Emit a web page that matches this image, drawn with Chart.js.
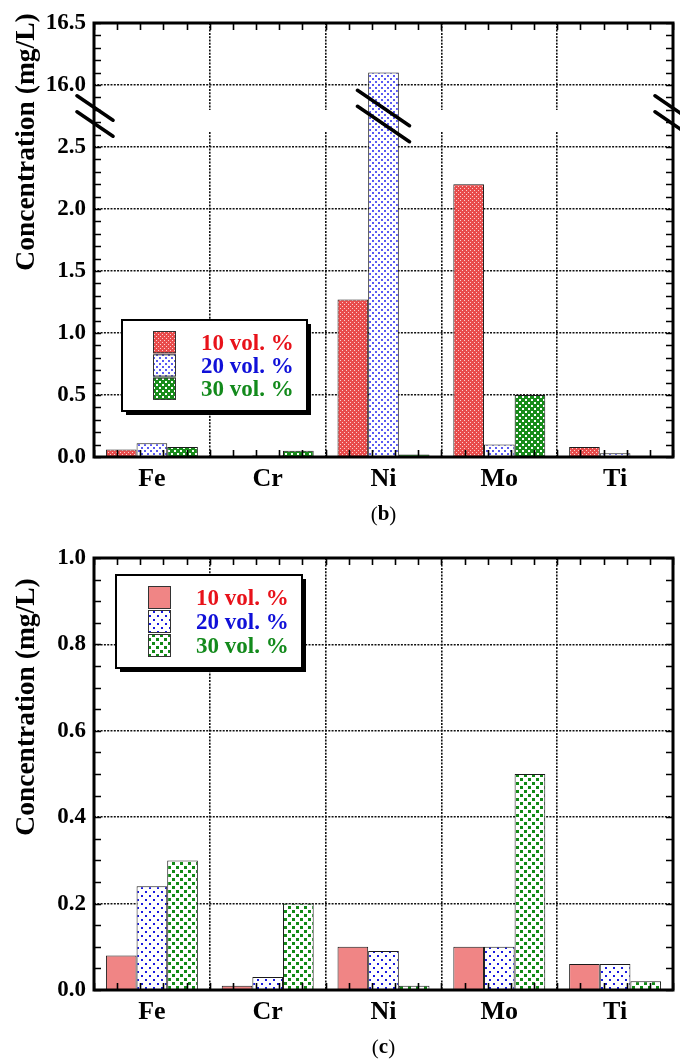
<!DOCTYPE html>
<html>
<head>
<meta charset="utf-8">
<script src="https://cdn.jsdelivr.net/npm/chart.js@4.4.1/dist/chart.umd.min.js"></script>
<style>
    body { margin: 0; background: #fff; }
    .panel { position: absolute; left: 0; width: 680px; }
    #panelB { top: 0; height: 530px; }
    #panelC { top: 530px; height: 529px; }
</style>
</head>
<body>
<div class="panel" id="panelB"><canvas id="chartB"></canvas></div>
<div class="panel" id="panelC"><canvas id="chartC"></canvas></div>
<script>
const elements = ['Fe', 'Cr', 'Ni', 'Mo', 'Ti'];
const seriesLabels = ['10 vol. %', '20 vol. %', '30 vol. %'];
const seriesTextColors = ['#e8121a', '#1010d8', '#138a1c'];

// panel (b), mg/L
const b10 = [0.06, 0.005, 1.27, 2.2, 0.08];
const b20 = [0.11, 0.015, 16.1, 0.1, 0.03];
const b30 = [0.08, 0.05, 0.02, 0.5, 0];
const bTicks = ['0.0', '0.5', '1.0', '1.5', '2.0', '2.5', '16.0', '16.5'];

// panel (c), mg/L
const c10 = [0.08, 0.01, 0.1, 0.1, 0.06];
const c20 = [0.24, 0.03, 0.09, 0.1, 0.06];
const c30 = [0.30, 0.20, 0.01, 0.5, 0.02];
const cTicks = ['0.0', '0.2', '0.4', '0.6', '0.8', '1.0'];

// broken y axis of panel (b): everything above 2.5 is shifted down so 16.0 sits one step above 2.5
const BREAK_LOW = 2.5;
const BREAK_HIGH = 16.0;
const BREAK_STEP = 0.5;
function toBroken(v) {
    return v > BREAK_LOW ? v - (BREAK_HIGH - BREAK_LOW - BREAK_STEP) : v;
}

const SERIF = "'Liberation Serif', 'Times New Roman', serif";

function makePattern(size, bg, dots) {
    const c = document.createElement('canvas');
    c.width = c.height = size;
    const g = c.getContext('2d');
    g.fillStyle = bg;
    g.fillRect(0, 0, size, size);
    dots.forEach(d => {
        g.fillStyle = d[3];
        g.fillRect(d[0], d[1], d[2], d[2]);
    });
    return g.createPattern(c, 'repeat');
}

const fillsB = [
    makePattern(4, '#e84c4c', [[0, 0, 1, '#fbd0d0'], [2, 2, 1, '#fbd0d0']]),
    makePattern(6, '#ffffff', [[0, 0, 2, '#5a5af2'], [3, 3, 2, '#5a5af2']]),
    makePattern(6, '#178c1a', [[0, 0, 2, '#ffffff'], [3, 3, 2, '#ffffff']])
];
const fillsC = [
    '#f08585',
    makePattern(8, '#ffffff', [[1, 1, 2, '#1a1ae0'], [5, 5, 2, '#1a1ae0']]),
    makePattern(8, '#ffffff', [[0, 0, 3, '#128a16'], [4, 4, 3, '#128a16']])
];

// frame, inward minor ticks, y title, panel letter, legend
function framePlugin(cfg) {
    return {
        id: 'frame_' + cfg.letter,
        afterDatasetsDraw(chart) {
            const ctx = chart.ctx;
            const a = chart.chartArea;
            const ys = chart.scales.y;
            ctx.save();
            ctx.strokeStyle = '#000';
            ctx.lineWidth = 1.6;
            ctx.beginPath();
            for (let v = 0; v <= ys.max + 1e-9; v += cfg.minorStep) {
                const y = Math.round(ys.getPixelForValue(v)) + 0.5;
                ctx.moveTo(a.left, y); ctx.lineTo(a.left + 7, y);
                ctx.moveTo(a.right, y); ctx.lineTo(a.right - 7, y);
            }
            const w = (a.right - a.left) / elements.length;
            for (let i = 0; i <= elements.length * 5; i++) {
                const x = Math.round(a.left + i * w / 5) + 0.5;
                ctx.moveTo(x, a.bottom); ctx.lineTo(x, a.bottom - 7);
                ctx.moveTo(x, a.top); ctx.lineTo(x, a.top + 7);
            }
            ctx.stroke();
            ctx.lineWidth = 3;
            ctx.strokeRect(a.left, a.top, a.right - a.left, a.bottom - a.top);
            ctx.restore();
        },
        afterDraw(chart) {
            const ctx = chart.ctx;
            const a = chart.chartArea;
            ctx.save();
            // y title
            ctx.translate(27, cfg.titleY);
            ctx.rotate(-Math.PI / 2);
            ctx.fillStyle = '#000';
            ctx.font = 'bold 27.5px ' + SERIF;
            ctx.textAlign = 'center';
            ctx.textBaseline = 'middle';
            ctx.fillText('Concentration (mg/L)', 0, 0);
            ctx.restore();

            // panel letter "(b)" / "(c)"
            ctx.save();
            ctx.fillStyle = '#000';
            ctx.textBaseline = 'middle';
            const cx = (a.left + a.right) / 2;
            ctx.font = '21px ' + SERIF;
            const wp = ctx.measureText('(').width;
            const wq = ctx.measureText(')').width;
            ctx.font = 'bold 21px ' + SERIF;
            const wl = ctx.measureText(cfg.letter).width;
            const x = cx - (wp + wl + wq) / 2;
            ctx.font = '21px ' + SERIF;
            ctx.fillText('(', x, cfg.letterY);
            ctx.font = 'bold 21px ' + SERIF;
            ctx.fillText(cfg.letter, x + wp, cfg.letterY);
            ctx.font = '21px ' + SERIF;
            ctx.fillText(')', x + wp + wl, cfg.letterY);
            ctx.restore();

            // legend box with drop shadow
            const L = cfg.legend;
            ctx.save();
            ctx.fillStyle = '#000';
            ctx.fillRect(L.x + 4, L.y + 4, L.w, L.h);
            ctx.fillStyle = '#fff';
            ctx.fillRect(L.x, L.y, L.w, L.h);
            ctx.lineWidth = 2;
            ctx.strokeStyle = '#000';
            ctx.strokeRect(L.x, L.y, L.w, L.h);
            ctx.font = 'bold 23px ' + SERIF;
            ctx.textBaseline = 'middle';
            chart.data.datasets.forEach((ds, i) => {
                const sy = L.y + L.rowTop + i * L.rowH;
                ctx.fillStyle = ds.backgroundColor;
                ctx.fillRect(L.x + L.swX, sy, 23, L.rowH - 1);
                ctx.lineWidth = 1;
                ctx.strokeStyle = '#333';
                ctx.strokeRect(L.x + L.swX + 0.5, sy + 0.5, 22, L.rowH - 2);
                ctx.fillStyle = seriesTextColors[i];
                ctx.fillText(ds.label, L.x + L.txX, sy + L.rowH / 2 + 1);
            });
            ctx.restore();
        }
    };
}

// slashes across the axes and the tall Ni bar where the y axis is broken
const breakPlugin = {
    id: 'axisBreak',
    beforeDatasetsDraw(chart) {
        const ctx = chart.ctx;
        const ys = chart.scales.y;
        const xs = chart.scales.x;
        const yc = ys.getPixelForValue(BREAK_LOW + BREAK_STEP / 2);
        ctx.save();
        ctx.fillStyle = '#fff';
        for (let i = 1; i < elements.length; i++) {
            const x = (xs.getPixelForValue(i - 1) + xs.getPixelForValue(i)) / 2;
            ctx.fillRect(x - 2, yc - 6, 4, 22);
        }
        ctx.restore();
    },
    afterDraw(chart) {
        const ctx = chart.ctx;
        const a = chart.chartArea;
        const yc = chart.scales.y.getPixelForValue(BREAK_LOW + BREAK_STEP / 2);
        const niBar = chart.getDatasetMeta(1).data[elements.indexOf('Ni')];
        ctx.save();
        ctx.strokeStyle = '#000';
        ctx.lineWidth = 3.5;
        ctx.lineCap = 'round';
        ctx.beginPath();
        [[a.left + 1, 18], [niBar.x, 26], [a.right, 18]].forEach(([x, hw]) => {
            const hh = hw * 0.68;
            [-8, 8].forEach(off => {
                ctx.moveTo(x - hw, yc + off - hh);
                ctx.lineTo(x + hw, yc + off + hh);
            });
        });
        ctx.stroke();
        ctx.restore();
    }
};

function barDatasets(series, fills) {
    return series.map((data, i) => ({
        label: seriesLabels[i],
        data: data,
        backgroundColor: fills[i],
        borderColor: '#1a1a1a',
        borderWidth: 1,
        categoryPercentage: 0.794,
        barPercentage: 1.0
    }));
}

function buildOptions(yCfg, padding) {
    return {
        responsive: false,
        animation: false,
        layout: { padding: padding },
        plugins: { legend: { display: false }, tooltip: { enabled: false } },
        scales: {
            x: {
                grid: { color: '#111', lineWidth: 1.6, drawTicks: false, offset: true },
                border: { display: false, dash: [2, 1.3] },
                ticks: { color: '#000', font: { family: SERIF, size: 26, weight: 'bold' }, padding: 7 },
                afterFit: s => { s.height = 40; }
            },
            y: Object.assign({
                grid: { color: '#111', lineWidth: 1.6, drawTicks: false },
                border: { display: false, dash: [2, 1.3] },
                afterFit: s => { s.width = 94; }
            }, yCfg)
        }
    };
}

function setupCanvas(id, w, h) {
    const c = document.getElementById(id);
    c.width = w; c.height = h;
    c.style.width = w + 'px'; c.style.height = h + 'px';
    return c;
}

const yTickFont = { family: SERIF, size: 23, weight: 'bold' };

new Chart(setupCanvas('chartB', 680, 530), {
    type: 'bar',
    data: { labels: elements, datasets: barDatasets([b10, b20, b30].map(s => s.map(toBroken)), fillsB) },
    options: buildOptions({
        min: 0, max: toBroken(16.5),
        ticks: { stepSize: 0.5, color: '#000', font: yTickFont, padding: 8, callback: (v, i) => bTicks[i] }
    }, { left: 0, right: 7, top: 23, bottom: 33 }),
    plugins: [breakPlugin, framePlugin({
        letter: 'b', minorStep: 0.1, titleY: 142, letterY: 515,
        legend: { x: 122, y: 320, w: 185, h: 91, swX: 31, txX: 79, rowTop: 11, rowH: 23.3 }
    })]
});

new Chart(setupCanvas('chartC', 680, 529), {
    type: 'bar',
    data: { labels: elements, datasets: barDatasets([c10, c20, c30], fillsC) },
    options: buildOptions({
        min: 0, max: 1,
        ticks: { stepSize: 0.2, color: '#000', font: yTickFont, padding: 8, callback: (v, i) => cTicks[i] }
    }, { left: 0, right: 7, top: 28, bottom: 29 }),
    plugins: [framePlugin({
        letter: 'c', minorStep: 0.05, titleY: 177, letterY: 518,
        legend: { x: 116, y: 45, w: 186, h: 93, swX: 32, txX: 80, rowTop: 11, rowH: 24 }
    })]
});
</script>
</body>
</html>
